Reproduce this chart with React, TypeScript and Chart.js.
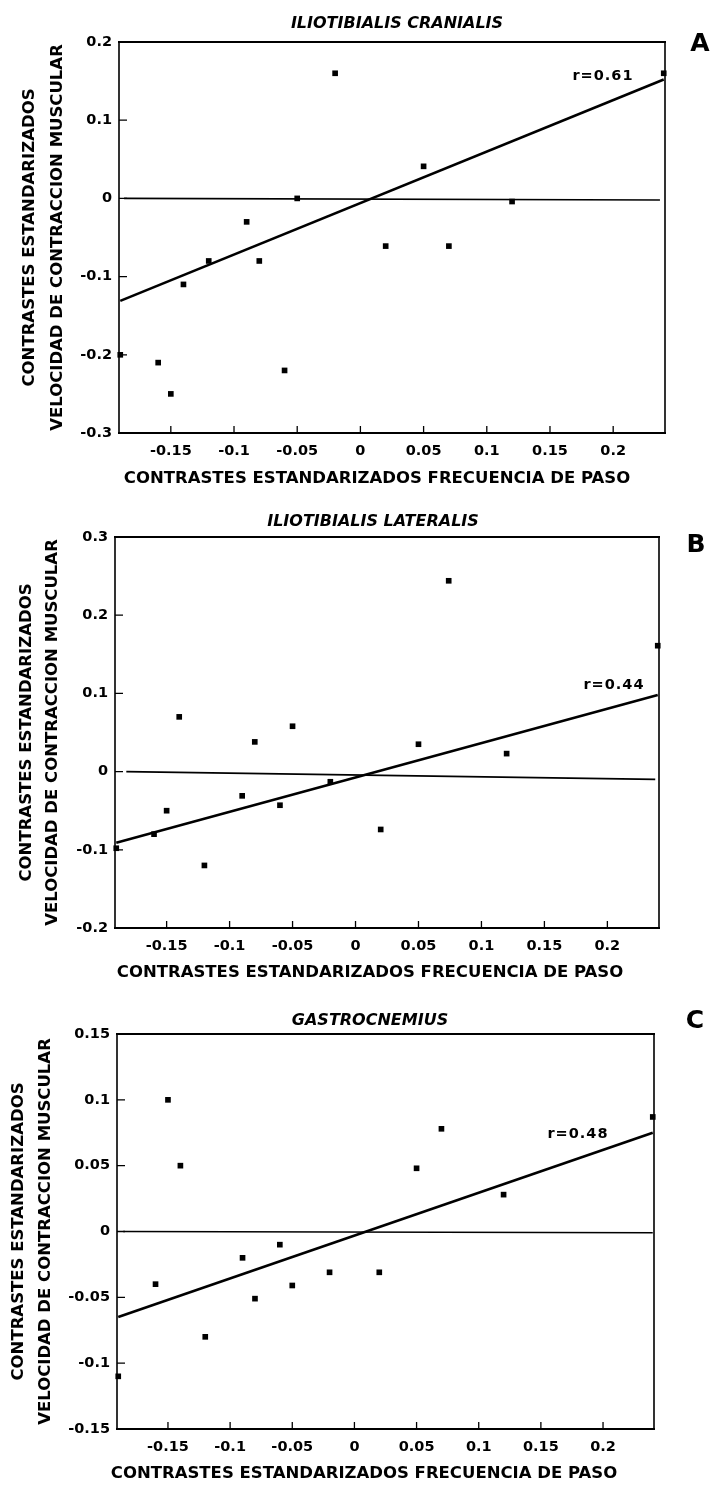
import React, { useEffect, useRef } from 'react';
import { Chart, registerables } from 'chart.js';

Chart.register(...registerables);

// ---------- shared axis data ----------
const xTickValues = [-0.15, -0.1, -0.05, 0, 0.05, 0.1, 0.15, 0.2];
const xTickLabels = ['-0.15', '-0.1', '-0.05', '0', '0.05', '0.1', '0.15', '0.2'];
const xAxisTitle = 'CONTRASTES ESTANDARIZADOS FRECUENCIA DE PASO';
const yAxisTitle = ['CONTRASTES ESTANDARIZADOS', 'VELOCIDAD DE CONTRACCION MUSCULAR'];

// ---------- panel A ----------
const aTitle = 'ILIOTIBIALIS CRANIALIS';
const aYTickValues = [-0.3, -0.2, -0.1, 0, 0.1, 0.2];
const aYTickLabels = ['-0.3', '-0.2', '-0.1', '0', '0.1', '0.2'];
const aX = [-0.19, -0.16, -0.15, -0.14, -0.12, -0.09, -0.08, -0.06, -0.05, -0.02, 0.02, 0.05, 0.07, 0.12, 0.24];
const aY = [-0.2, -0.21, -0.25, -0.11, -0.08, -0.03, -0.08, -0.22, 0, 0.16, -0.061, 0.041, -0.061, -0.004, 0.16];
const aFitX = [-0.19, 0.24];
const aFitY = [-0.131, 0.152];
const aZeroX = [-0.187, 0.237];
const aZeroY = [0, -0.002];
const aR = 'r=0.61';

// ---------- panel B ----------
const bTitle = 'ILIOTIBIALIS LATERALIS';
const bYTickValues = [-0.2, -0.1, 0, 0.1, 0.2, 0.3];
const bYTickLabels = ['-0.2', '-0.1', '0', '0.1', '0.2', '0.3'];
const bX = [-0.19, -0.16, -0.15, -0.14, -0.12, -0.09, -0.08, -0.06, -0.05, -0.02, 0.02, 0.05, 0.074, 0.12, 0.24];
const bY = [-0.098, -0.08, -0.05, 0.07, -0.12, -0.031, 0.038, -0.043, 0.058, -0.013, -0.074, 0.035, 0.244, 0.023, 0.161];
const bFitX = [-0.19, 0.24];
const bFitY = [-0.091, 0.098];
const bZeroX = [-0.182, 0.238];
const bZeroY = [0, -0.01];
const bR = 'r=0.44';

// ---------- panel C ----------
const cTitle = 'GASTROCNEMIUS';
const cYTickValues = [-0.15, -0.1, -0.05, 0, 0.05, 0.1, 0.15];
const cYTickLabels = ['-0.15', '-0.1', '-0.05', '0', '0.05', '0.1', '0.15'];
const cX = [-0.19, -0.16, -0.15, -0.14, -0.12, -0.09, -0.08, -0.06, -0.05, -0.02, 0.02, 0.05, 0.07, 0.12, 0.24];
const cY = [-0.11, -0.04, 0.1, 0.05, -0.08, -0.02, -0.051, -0.01, -0.041, -0.031, -0.031, 0.048, 0.078, 0.028, 0.087];
const cFitX = [-0.19, 0.24];
const cFitY = [-0.065, 0.075];
const cZeroX = [-0.186, 0.24];
const cZeroY = [0, -0.001];
const cR = 'r=0.48';

const FONT = 'DejaVu Sans';
const W = 714;

type PanelDef = {
  key: string;
  title: string;
  xs: number[]; ys: number[];
  fitX: number[]; fitY: number[];
  zeroX: number[]; zeroY: number[];
  yTicks: number[]; yLabels: string[];
  r: string;
  yMin: number; yMax: number;
  top: number; height: number;
  left: number; right: number; chartTop: number; chartBottom: number;
  titleX: number; titleY: number;
  letterX: number; letterY: number;
  rX: number; rY: number;
  xTitleX: number; xTitleY: number;
  yT1X: number; yT2X: number;
};

const panels: PanelDef[] = [
  {
    key: 'A', title: aTitle, xs: aX, ys: aY, fitX: aFitX, fitY: aFitY, zeroX: aZeroX, zeroY: aZeroY,
    yTicks: aYTickValues, yLabels: aYTickLabels, r: aR, yMin: -0.3, yMax: 0.2,
    top: 0, height: 495, left: 119, right: 665, chartTop: 42, chartBottom: 433,
    titleX: 397, titleY: 24, letterX: 700, letterY: 44, rX: 603, rY: 76,
    xTitleX: 377, xTitleY: 479, yT1X: 30, yT2X: 58,
  },
  {
    key: 'B', title: bTitle, xs: bX, ys: bY, fitX: bFitX, fitY: bFitY, zeroX: bZeroX, zeroY: bZeroY,
    yTicks: bYTickValues, yLabels: bYTickLabels, r: bR, yMin: -0.2, yMax: 0.3,
    top: 495, height: 495, left: 115, right: 659, chartTop: 42, chartBottom: 433,
    titleX: 373, titleY: 27, letterX: 696, letterY: 50, rX: 614, rY: 190,
    xTitleX: 370, xTitleY: 478, yT1X: 27, yT2X: 53,
  },
  {
    key: 'C', title: cTitle, xs: cX, ys: cY, fitX: cFitX, fitY: cFitY, zeroX: cZeroX, zeroY: cZeroY,
    yTicks: cYTickValues, yLabels: cYTickLabels, r: cR, yMin: -0.15, yMax: 0.15,
    top: 990, height: 498, left: 117, right: 654, chartTop: 44, chartBottom: 439,
    titleX: 370, titleY: 31, letterX: 695, letterY: 31, rX: 578, rY: 144,
    xTitleX: 364, xTitleY: 484, yT1X: 19, yT2X: 46,
  },
];

function makeConfig(p: PanelDef): any {
  const decor = {
    id: 'decor' + p.key,
    afterDraw(chart: any) {
      const { ctx, chartArea: ca, scales } = chart;
      ctx.save();
      ctx.strokeStyle = '#000';
      ctx.fillStyle = '#000';
      // frame
      ctx.lineCap = 'square';
      ctx.lineWidth = 2;
      ctx.beginPath();
      ctx.moveTo(ca.left, ca.top); ctx.lineTo(ca.right, ca.top);
      ctx.moveTo(ca.left, ca.bottom); ctx.lineTo(ca.right, ca.bottom);
      ctx.stroke();
      ctx.lineWidth = 1.6;
      ctx.beginPath();
      ctx.moveTo(ca.left, ca.top); ctx.lineTo(ca.left, ca.bottom);
      ctx.moveTo(ca.right, ca.top); ctx.lineTo(ca.right, ca.bottom);
      ctx.stroke();
      // inward tick marks
      ctx.lineCap = 'butt';
      ctx.lineWidth = 1.3;
      ctx.beginPath();
      for (const v of p.yTicks) {
        const y = scales.y.getPixelForValue(v);
        ctx.moveTo(ca.left, y); ctx.lineTo(ca.left + 8, y);
      }
      for (const v of xTickValues) {
        const x = scales.x.getPixelForValue(v);
        ctx.moveTo(x, ca.bottom); ctx.lineTo(x, ca.bottom - 7);
      }
      ctx.stroke();
      // texts
      ctx.textAlign = 'center';
      ctx.textBaseline = 'middle';
      ctx.font = `italic bold 16px "${FONT}"`;
      ctx.fillText(p.title, p.titleX, p.titleY);
      ctx.font = `bold 25px "${FONT}"`;
      ctx.fillText(p.key, p.letterX, p.letterY);
      ctx.font = `bold 14.5px "${FONT}"`;
      (ctx as any).letterSpacing = '1px';
      ctx.fillText(p.r, p.rX, p.rY);
      (ctx as any).letterSpacing = '0px';
      ctx.font = `bold 16.5px "${FONT}"`;
      ctx.fillText(xAxisTitle, p.xTitleX, p.xTitleY);
      const cy = (ca.top + ca.bottom) / 2;
      const xs = [p.yT1X, p.yT2X];
      yAxisTitle.forEach((line, i) => {
        ctx.save();
        ctx.translate(xs[i], cy);
        ctx.rotate(-Math.PI / 2);
        ctx.fillText(line, 0, 0);
        ctx.restore();
      });
      ctx.restore();
    },
  };

  const tickFont = { family: FONT, size: 14.5, weight: 'bold' as const };

  return {
    type: 'scatter',
    data: {
      datasets: [
        {
          data: p.zeroX.map((x, i) => ({ x, y: p.zeroY[i] })),
          showLine: true, borderColor: '#000', borderWidth: 1.6, pointRadius: 0, clip: false,
        },
        {
          data: p.fitX.map((x, i) => ({ x, y: p.fitY[i] })),
          showLine: true, borderColor: '#000', borderWidth: 2.6, pointRadius: 0, clip: false,
        },
        {
          data: p.xs.map((x, i) => ({ x, y: p.ys[i] })),
          showLine: false, pointStyle: 'rect', pointRadius: 4, backgroundColor: '#000',
          borderWidth: 0, borderColor: '#000', clip: false,
        },
      ],
    },
    options: {
      responsive: false,
      animation: false,
      events: [],
      layout: { padding: { top: p.chartTop, right: W - p.right, left: 0, bottom: 0 } },
      plugins: { legend: { display: false }, tooltip: { enabled: false }, title: { display: false } },
      scales: {
        x: {
          type: 'linear', min: -0.191, max: 0.241,
          afterBuildTicks: (s: any) => { s.ticks = xTickValues.map((v) => ({ value: v })); },
          afterFit: (s: any) => { s.height = p.height - p.chartBottom; },
          grid: { display: false, drawTicks: false },
          border: { display: false },
          ticks: {
            autoSkip: false, maxRotation: 0, minRotation: 0, padding: 10, color: '#000', font: tickFont,
            callback: (_v: any, i: number) => xTickLabels[i],
          },
        },
        y: {
          type: 'linear', min: p.yMin, max: p.yMax,
          afterBuildTicks: (s: any) => { s.ticks = p.yTicks.map((v) => ({ value: v })); },
          afterFit: (s: any) => { s.width = p.left; },
          grid: { display: false, drawTicks: false },
          border: { display: false },
          ticks: {
            autoSkip: false, padding: 7, color: '#000', font: tickFont,
            callback: (_v: any, i: number) => p.yLabels[i],
          },
        },
      },
    },
    plugins: [decor],
  };
}

function Panel({ p }: { p: PanelDef }) {
  const ref = useRef<HTMLCanvasElement | null>(null);
  useEffect(() => {
    if (!ref.current) return;
    const chart = new Chart(ref.current, makeConfig(p));
    return () => chart.destroy();
  }, [p]);
  return (
    <canvas
      ref={ref}
      width={W}
      height={p.height}
      style={{ position: 'absolute', left: 0, top: p.top, width: W, height: p.height, display: 'block' }}
    />
  );
}

export default function App() {
  return (
    <div style={{ position: 'absolute', left: 0, top: 0, width: W, height: 1488, overflow: 'hidden', background: '#fff' }}>
      {panels.map((p) => (
        <Panel key={p.key} p={p} />
      ))}
    </div>
  );
}
